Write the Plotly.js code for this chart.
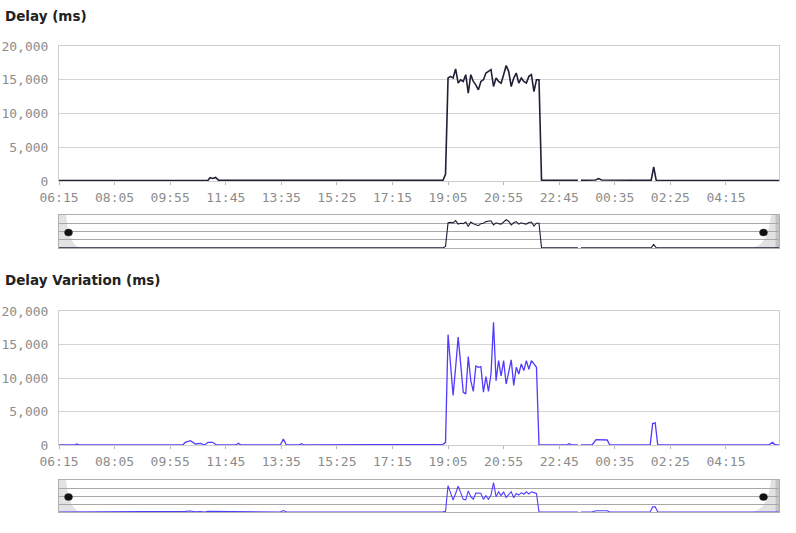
<!DOCTYPE html>
<html>
<head>
<meta charset="utf-8">
<script src="https://cdn.plot.ly/plotly-3.0.1.min.js"></script>
<style>
  html, body { margin: 0; padding: 0; background: #fff; }
  #chart { width: 796px; height: 533px; }
</style>
</head>
<body>
<div id="chart"></div>
<script>
// ---- Data (time = minutes after 06:15) ----
const tickMinutes = [0, 110, 220, 330, 440, 550, 660, 770, 880, 990, 1100, 1210, 1320];
const tickLabels = ["06:15", "08:05", "09:55", "11:45", "13:35", "15:25", "17:15",
                    "19:05", "20:55", "22:45", "00:35", "02:25", "04:15"];
const yTickValues = [0, 5000, 10000, 15000, 20000];
const yTickLabels = ["0", "5,000", "10,000", "15,000", "20,000"];

// Delay (ms)
const delayTime = [0, 295, 299, 304, 310, 316, 760, 765,
  770, 775, 780, 785, 790, 795, 800, 805, 810, 815, 820, 825, 830, 835, 840, 845,
  850, 855, 860, 865, 870, 875, 880, 885, 890, 895, 900, 905, 910, 915, 920, 925,
  930, 935, 940, 945, 950,
  955, 1027, 1030, 1033, 1062, 1068, 1074, 1172, 1177, 1182, 1425];
const delayValue = [80, 100, 500, 380, 520, 100, 100, 1000,
  15250, 15500, 15250, 16600, 14500, 15000, 14750, 15750, 13000, 15750, 14750, 14250,
  13500, 14750, 15000, 16000, 16250, 16500, 14000, 15250, 14750, 14500, 15750, 17100,
  16250, 14000, 15250, 16000, 14500, 15250, 14750, 14500, 15500, 15750, 13250, 15000,
  15000,
  100, 100, null, 100, 150, 350, 150, 100, 2100, 100, 80];

// Delay Variation (ms)
const varTime = [0, 30, 35, 40, 245, 250, 260, 270, 280, 288, 295, 304, 312, 350, 355, 360,
  438, 444, 450, 475, 480, 485, 760, 765,
  770, 775, 780, 785, 790, 795, 800, 805, 810, 815, 820, 825, 830, 835, 840, 845,
  850, 855, 860, 865, 870, 875, 880, 885, 890, 895, 900, 905, 910, 915, 920, 925,
  930, 935, 940, 945,
  950, 1005, 1010, 1015, 1027, 1030, 1033, 1055, 1063, 1075, 1085, 1090,
  1170, 1175, 1180, 1185, 1405, 1412, 1418, 1425];
const varValue = [0, 0, 150, 0, 0, 400, 650, 150, 250, 0, 400, 400, 0, 0, 250, 0,
  0, 900, 0, 0, 200, 0, 100, 400,
  16500, 11600, 7400, 11600, 16100, 12100, 7900, 7600, 13200, 9600, 8000, 11800,
  11600, 11700, 7900, 10200, 8000, 10600, 18300, 9600, 12600, 10300, 12600, 9100,
  10800, 12700, 8900, 11600, 10600, 12100, 11100, 12600, 11300, 12600, 12100, 11600,
  0, 0, 200, 0, 0, null, 0, 0, 800, 750, 750, 0,
  0, 3200, 3300, 0, 0, 400, 0, 0];

// ---- Layout helpers (pixel -> paper) ----
const W = 796, H = 533;
const px = x => x / W;
const py = y => 1 - y / H;
const xDom = [px(59), px(779)];
const xRange = [0, 1425];

const monoFont = {family: "DejaVu Sans Mono, monospace", size: 13, color: "#8c8c8c"};

function mainX(anchor) {
  return {
    domain: xDom, range: xRange, anchor: anchor,
    tickmode: "array", tickvals: tickMinutes, ticktext: tickLabels,
    ticks: "outside", ticklen: 3, tickcolor: "#b8b8b8", tickwidth: 1,
    tickfont: monoFont, ticklabelstandoff: 1,
    showgrid: false, zeroline: false,
    showline: true, mirror: true, linecolor: "#cfcfcf", linewidth: 1,
    fixedrange: true
  };
}
function mainY(anchor, top, bottom) {
  return {
    domain: [py(bottom), py(top)], range: [0, 20000], anchor: anchor,
    tickmode: "array", tickvals: yTickValues, ticktext: yTickLabels,
    ticks: "", tickfont: monoFont, ticklabelstandoff: 7,
    showgrid: true, gridcolor: "#d4d4d4", gridwidth: 1, zeroline: false,
    showline: true, mirror: true, linecolor: "#cfcfcf", linewidth: 1,
    fixedrange: true
  };
}
function miniX(anchor) {
  return {
    domain: xDom, range: xRange, anchor: anchor,
    showticklabels: false, ticks: "", showgrid: false, zeroline: false,
    showline: true, mirror: true, linecolor: "#b0b0b0", linewidth: 1,
    fixedrange: true
  };
}
function miniY(anchor, top, bottom) {
  return {
    domain: [py(bottom), py(top)], range: [0, 20000], anchor: anchor,
    tickvals: yTickValues, showticklabels: false, ticks: "",
    showgrid: true, gridcolor: "#a8a8a8", gridwidth: 1, zeroline: false,
    showline: true, mirror: true, linecolor: "#b0b0b0", linewidth: 1,
    fixedrange: true
  };
}

const delayColor = "#1f1f36";
const varColor = "#4f3cff";

const traces = [
  {x: delayTime, y: delayValue, xaxis: "x", yaxis: "y", type: "scatter", mode: "lines",
   line: {color: delayColor, width: 1.6}, connectgaps: false, hoverinfo: "skip"},
  {x: delayTime, y: delayValue, xaxis: "x3", yaxis: "y3", type: "scatter", mode: "lines",
   line: {color: delayColor, width: 1.1}, connectgaps: false, hoverinfo: "skip"},
  {x: varTime, y: varValue, xaxis: "x2", yaxis: "y2", type: "scatter", mode: "lines",
   line: {color: varColor, width: 1.3}, connectgaps: false, hoverinfo: "skip"},
  {x: varTime, y: varValue, xaxis: "x4", yaxis: "y4", type: "scatter", mode: "lines",
   line: {color: varColor, width: 1.1}, connectgaps: false, hoverinfo: "skip"}
];

// handle decorations for the mini overview charts
function handles(top, bottom) {
  const mid = (top + bottom) / 2;
  const leftPath = `M ${px(59)} ${py(top)} L ${px(66)} ${py(top)} ` +
    `C ${px(68)} ${py(mid)}, ${px(70)} ${py(bottom - 3)}, ${px(81)} ${py(bottom)} ` +
    `L ${px(59)} ${py(bottom)} Z`;
  const rightPath = `M ${px(779)} ${py(top)} L ${px(771)} ${py(top)} ` +
    `C ${px(769)} ${py(mid)}, ${px(766)} ${py(bottom - 3)}, ${px(752)} ${py(bottom)} ` +
    `L ${px(779)} ${py(bottom)} Z`;
  const dotY = mid + 1;
  return [
    {type: "path", xref: "paper", yref: "paper", path: leftPath, layer: "below",
     fillcolor: "#e2e2e2", line: {width: 0}},
    {type: "path", xref: "paper", yref: "paper", path: rightPath, layer: "below",
     fillcolor: "#e2e2e2", line: {width: 0}},
    {type: "rect", xref: "paper", yref: "paper", x0: px(775.5), x1: px(779), y0: py(bottom), y1: py(top),
     layer: "below", fillcolor: "#c4c4c4", line: {width: 0}},
    {type: "circle", xref: "paper", yref: "paper", x0: px(64.5), x1: px(72.5), y0: py(dotY + 3.5), y1: py(dotY - 3.5),
     fillcolor: "#111", line: {color: "#333", width: 0.5}},
    {type: "circle", xref: "paper", yref: "paper", x0: px(759.5), x1: px(767.5), y0: py(dotY + 3.5), y1: py(dotY - 3.5),
     fillcolor: "#111", line: {color: "#333", width: 0.5}}
  ];
}

const titleFont = {family: "DejaVu Sans, sans-serif", size: 13.5, color: "#222"};

const layout = {
  width: W, height: H,
  margin: {l: 0, r: 0, t: 0, b: 0},
  paper_bgcolor: "#ffffff", plot_bgcolor: "rgba(0,0,0,0)",
  showlegend: false,
  xaxis: mainX("y"),
  yaxis: mainY("x", 46, 181),
  xaxis3: miniX("y3"),
  yaxis3: miniY("x3", 215, 248),
  xaxis2: mainX("y2"),
  yaxis2: mainY("x2", 311, 445),
  xaxis4: miniX("y4"),
  yaxis4: miniY("x4", 480, 512),
  shapes: [].concat(handles(215, 248), handles(480, 512)),
  annotations: [
    {text: "<b>Delay (ms)</b>", xref: "paper", yref: "paper", x: px(3), y: py(16),
     xanchor: "left", yanchor: "middle", showarrow: false, font: titleFont},
    {text: "<b>Delay Variation (ms)</b>", xref: "paper", yref: "paper", x: px(3), y: py(280),
     xanchor: "left", yanchor: "middle", showarrow: false, font: titleFont}
  ]
};

Plotly.newPlot("chart", traces, layout, {displayModeBar: false, staticPlot: true});
</script>
</body>
</html>
